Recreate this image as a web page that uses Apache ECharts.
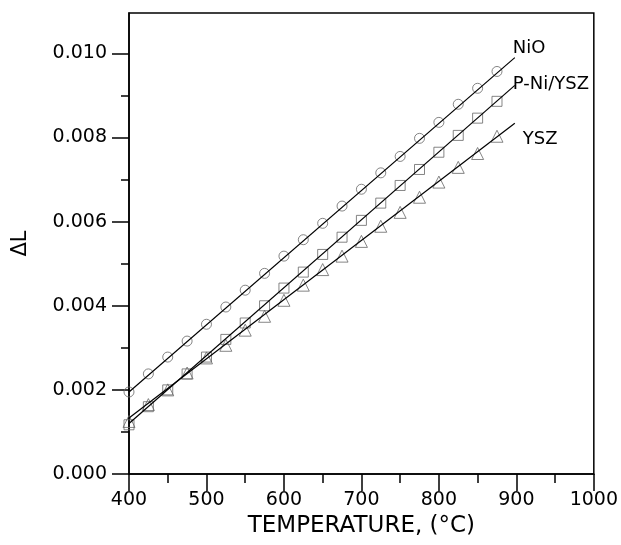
<!DOCTYPE html>
<html>
<head>
<meta charset="utf-8">
<script src="https://cdn.jsdelivr.net/npm/echarts@6/dist/echarts.min.js"></script>
<style>
html,body{margin:0;padding:0;background:#fff;}
#c{width:621px;height:545px;}
</style>
</head>
<body>
<div id="c"></div>
<script>
// ---- data ----
const temps = [400,425,450,475,500,525,550,575,600,625,650,675,700,725,750,775,800,825,850,875];
const nio  = [0.00195,0.00238,0.00278,0.00316,0.00356,0.00397,0.00437,0.00477,0.00518,0.00557,0.00596,0.00637,0.00677,0.00716,0.00755,0.00798,0.00836,0.00879,0.00917,0.00957];
const pni  = [0.00117,0.00160,0.00200,0.00238,0.00278,0.00320,0.00359,0.00400,0.00442,0.00480,0.00522,0.00563,0.00603,0.00644,0.00686,0.00724,0.00765,0.00805,0.00846,0.00886];
const ysz  = [0.00125,0.00165,0.00200,0.00240,0.00276,0.00306,0.00342,0.00375,0.00413,0.00449,0.00486,0.00518,0.00553,0.00589,0.00622,0.00658,0.00694,0.00729,0.00762,0.00803];
// fitted lines (end points)
const fitT   = [400, 898];
const nioFit = [0.00195, 0.00990];
const pniFit = [0.00120, 0.00924];
const yszFit = [0.00133, 0.00834];
const seriesNames = ['NiO', 'P-Ni/YSZ', 'YSZ'];
// ticks
const xMajor = [400,500,600,700,800,900,1000];
const xMinor = [450,550,650,750,850,950];
const yMajor = [0,0.002,0.004,0.006,0.008,0.010];
const yMinor = [0.001,0.003,0.005,0.007,0.009];

const FONT = 'DejaVu Sans, Verdana, sans-serif';
const pairs = (xs, ys) => xs.map((x, i) => [x, ys[i]]);

const chart = echarts.init(document.getElementById('c'), null, {renderer: 'canvas'});

const markerStyle = {color: 'rgba(0,0,0,0)', borderColor: '#666', borderWidth: 1};
function scatter(data, symbol, size) {
  return {type: 'scatter', data: data, symbol: symbol, symbolSize: size,
    itemStyle: markerStyle, z: 2, silent: true};
}
function fit(name, data, offset) {
  return {type: 'line', name: name, data: data, showSymbol: false, symbol: 'none',
    lineStyle: {color: '#000', width: 1.2}, z: 3, silent: true,
    endLabel: {show: true, formatter: name, color: '#000', fontSize: 18,
      fontFamily: FONT, offset: offset}};
}

chart.setOption({
  animation: false,
  backgroundColor: '#fff',
  grid: {left: 129, right: 25, top: 13, bottom: 71, show: true,
    borderColor: '#000', borderWidth: 1.5, backgroundColor: 'transparent'},
  xAxis: [{
    type: 'value', min: 400, max: 1000, interval: 100, position: 'bottom',
    name: 'TEMPERATURE, (°C)', nameLocation: 'middle', nameGap: 41,
    nameTextStyle: {fontSize: 23, fontFamily: FONT, color: '#000'},
    axisLine: {show: true, lineStyle: {color: '#000', width: 1.5}},
    axisTick: {show: true, inside: false, length: 17, customValues: xMajor,
      lineStyle: {color: '#000', width: 1.5}},
    axisLabel: {show: true, margin: 17, fontSize: 19, fontFamily: FONT, color: '#000',
      customValues: xMajor, formatter: v => String(v)},
    splitLine: {show: false}
  }, {
    type: 'value', min: 400, max: 1000, position: 'bottom', gridIndex: 0,
    axisLine: {show: false},
    axisTick: {show: true, inside: false, length: 9, customValues: xMinor,
      lineStyle: {color: '#000', width: 1.5}},
    axisLabel: {show: false}, splitLine: {show: false}
  }],
  yAxis: [{
    type: 'value', min: 0, max: 0.01096, position: 'left',
    name: 'ΔL', nameLocation: 'middle', nameGap: 98,
    nameTextStyle: {fontSize: 21, fontFamily: FONT, color: '#000'},
    axisLine: {show: true, lineStyle: {color: '#000', width: 1.5}},
    axisTick: {show: true, inside: false, length: 17, customValues: yMajor,
      lineStyle: {color: '#000', width: 1.5}},
    axisLabel: {show: true, margin: 22, fontSize: 19, fontFamily: FONT, color: '#000',
      customValues: yMajor, formatter: v => v.toFixed(3)},
    splitLine: {show: false}
  }, {
    type: 'value', min: 0, max: 0.01096, position: 'left', gridIndex: 0,
    axisLine: {show: false},
    axisTick: {show: true, inside: false, length: 8, customValues: yMinor,
      lineStyle: {color: '#000', width: 1.5}},
    axisLabel: {show: false}, splitLine: {show: false}
  }],
  series: [
    scatter(pairs(temps, nio), 'circle', 10),
    scatter(pairs(temps, pni), 'rect', 10),
    scatter(pairs(temps, ysz), 'triangle', 12),
    fit(seriesNames[0], pairs(fitT, nioFit), [-10, -9]),
    fit(seriesNames[1], pairs(fitT, pniFit), [-10, -1]),
    fit(seriesNames[2], pairs(fitT, yszFit), [0, 16])
  ]
});
</script>
</body>
</html>
